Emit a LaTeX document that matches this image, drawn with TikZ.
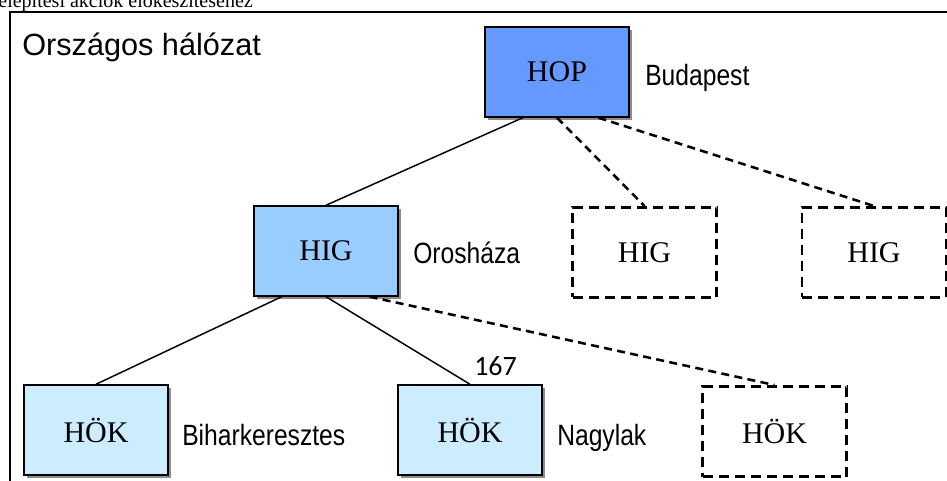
\documentclass[tikz,border=0pt]{standalone}
\usepackage{fontspec}
\setmainfont{Liberation Serif}
\newfontfamily\labelsans{Liberation Sans}
\newfontfamily\narrowsans[FakeStretch=0.84]{Liberation Sans}
\newfontfamily\numfont{Carlito}
\usetikzlibrary{calc,shadows}

\definecolor{hopblue}{HTML}{6699FF}
\definecolor{higblue}{HTML}{99CCFF}
\definecolor{hokblue}{HTML}{CCECFF}
\definecolor{shadowgray}{HTML}{8C8C8C}

\tikzset{
  unitbox/.style={rectangle, minimum width=108pt, minimum height=67.5pt,
    inner sep=0pt, font=\fontsize{22.5pt}{24pt}\selectfont},
  solidunit/.style={unitbox, draw=black, line width=1.1pt,
    drop shadow={shadow xshift=2.4pt, shadow yshift=-2.4pt, fill=shadowgray, opacity=1}},
  plannedunit/.style={unitbox, draw=black, line width=2.2pt,
    dash pattern=on 7.5pt off 4.5pt},
  place/.style={anchor=base west, inner sep=0pt,
    font=\narrowsans\fontsize{22pt}{24pt}\selectfont},
  link/.style={draw=black, line width=1.1pt},
  plannedlink/.style={draw=black, line width=1.9pt, dash pattern=on 6pt off 4pt},
  frameline/.style={draw=black, line width=1.5pt}
}

\begin{document}
\begin{tikzpicture}[x=0.75pt,y=-0.75pt]
  \clip (0,0) rectangle (947,481);

  % caption line running above the frame
  \node[anchor=base east, inner sep=0pt, font=\fontsize{15pt}{16pt}\selectfont]
    (caption) at (253,8) {telepítési akciók előkészítéséhez};

  % frame of the network
  \draw[frameline] (10,12.5) rectangle (970,500);
  \node[anchor=base west, inner sep=0pt, font=\labelsans\fontsize{23pt}{25pt}\selectfont]
    (title) at (22,56) {Országos hálózat};

  % units
  \node[solidunit, fill=hopblue] (hop) at (557,72) {HOP};
  \node[solidunit, fill=higblue] (hig) at (326,251) {HIG};
  \node[plannedunit] (higa) at (644.5,252.5) {HIG};
  \node[plannedunit] (higb) at (874,252.5) {HIG};
  \node[solidunit, fill=hokblue] (hoka) at (96,430) {HÖK};
  \node[solidunit, fill=hokblue] (hokb) at (470,430) {HÖK};
  \node[plannedunit] (hokc) at (774.5,431.5) {HÖK};

  % place names
  \node[place] (budapest) at (645,86) {Budapest};
  \node[place] (oroshaza) at (413,264) {Orosháza};
  \node[place] (bihar) at (182,445) {Biharkeresztes};
  \node[place] (nagylak) at (557,445) {Nagylak};
  \node[anchor=base west, inner sep=0pt, font=\numfont\fontsize{21pt}{22pt}\selectfont]
    (num) at (474,375) {167};

  % connections
  \draw[link] ($(hop.south west)!0.265!(hop.south east)$) -- (hig.north);
  \draw[plannedlink] (hop.south) -- (higa.north);
  \draw[plannedlink] ($(hop.south west)!0.785!(hop.south east)$) -- (higb.north);
  \draw[link] ($(hig.south west)!0.195!(hig.south east)$) -- (hoka.north);
  \draw[link] (hig.south) -- (hokb.north);
  \draw[plannedlink] ($(hig.south west)!0.8!(hig.south east)$) -- (hokc.north);
\end{tikzpicture}
\end{document}
